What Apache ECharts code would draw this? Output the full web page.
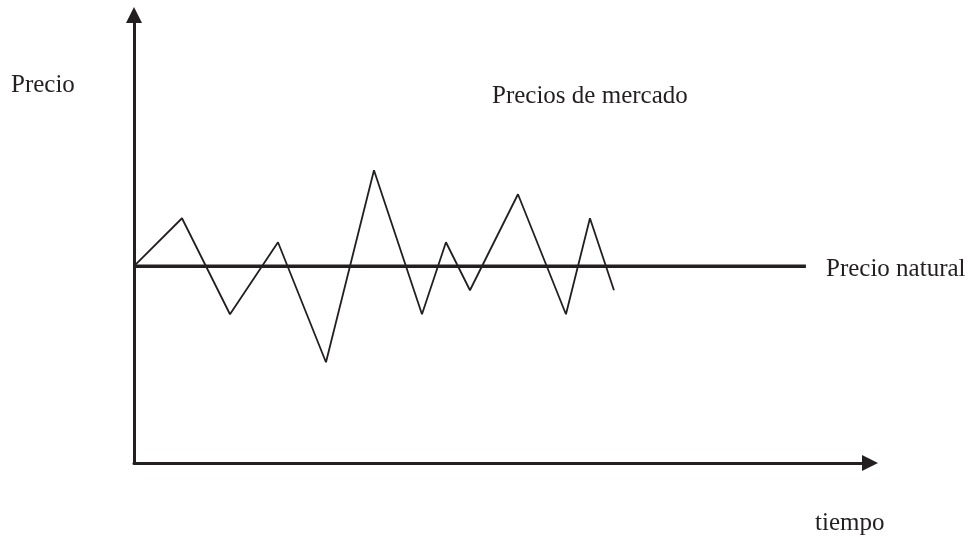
<!DOCTYPE html>
<html>
<head>
<meta charset="utf-8">
<script src="https://cdn.jsdelivr.net/npm/echarts@6/dist/echarts.min.js"></script>
<style>
  html, body { margin: 0; padding: 0; background: #fff; }
  #chart { width: 979px; height: 537px; }
</style>
</head>
<body>
<div id="chart"></div>
<script>
// tiempo (x) en unidades del esquema
var tiempo = [0, 2, 4, 6, 8, 10, 12, 13, 14, 16, 18, 19, 20];
var preciosMercado = [8, 10, 6, 9, 4, 12, 6, 9, 7, 11, 6, 10, 7];
var naturalX = [0, 28];
var precioNatural = [8, 8];

function initChart(dom) {
  var myChart = echarts.init(dom),
    ink = '#231f20',
    font = '"Liberation Serif", "DejaVu Serif", serif',
    option = {
      animation: false,
      grid: { left: 134, right: 109, top: 15, bottom: 74 },
      xAxis: {
        type: 'value',
        min: 0,
        max: 30.67,
        axisLine: {
          onZero: false,
          symbol: ['none', 'triangle'],
          symbolSize: [16, 16],
          lineStyle: { color: ink, width: 3 }
        },
        axisTick: { show: false },
        axisLabel: { show: false },
        splitLine: { show: false }
      },
      yAxis: {
        type: 'value',
        min: -0.2,
        max: 18.47,
        axisLine: {
          show: true,
          onZero: false,
          symbol: ['none', 'triangle'],
          symbolSize: [16, 16],
          lineStyle: { color: ink, width: 3 }
        },
        axisTick: { show: false },
        axisLabel: { show: false },
        splitLine: { show: false }
      },
      series: [{
        name: 'Precio natural',
        type: 'line',
        symbol: 'none',
        lineStyle: { color: ink, width: 3.5 },
        data: naturalX.map(function (x, i) { return [x, precioNatural[i]]; })
      }, {
        name: 'Precios de mercado',
        type: 'line',
        symbol: 'none',
        lineStyle: { color: ink, width: 1.8 },
        data: tiempo.map(function (x, i) { return [x, preciosMercado[i]]; })
      }],
      graphic: [
        { type: 'text', left: 11, top: 73, style: { text: 'Precio', font: '25px ' + font, fill: ink } },
        { type: 'text', left: 492, top: 84, style: { text: 'Precios de mercado', font: '25px ' + font, fill: ink } },
        { type: 'text', left: 826, top: 257, style: { text: 'Precio natural', font: '25px ' + font, fill: ink } },
        { type: 'text', left: 815, top: 511, style: { text: 'tiempo', font: '25px ' + font, fill: ink } }
      ]
    };
  myChart.setOption(option, true);
  window.addEventListener('resize', function () {
    myChart.resize();
  });
}

initChart(document.getElementById('chart'));
</script>
</body>
</html>
